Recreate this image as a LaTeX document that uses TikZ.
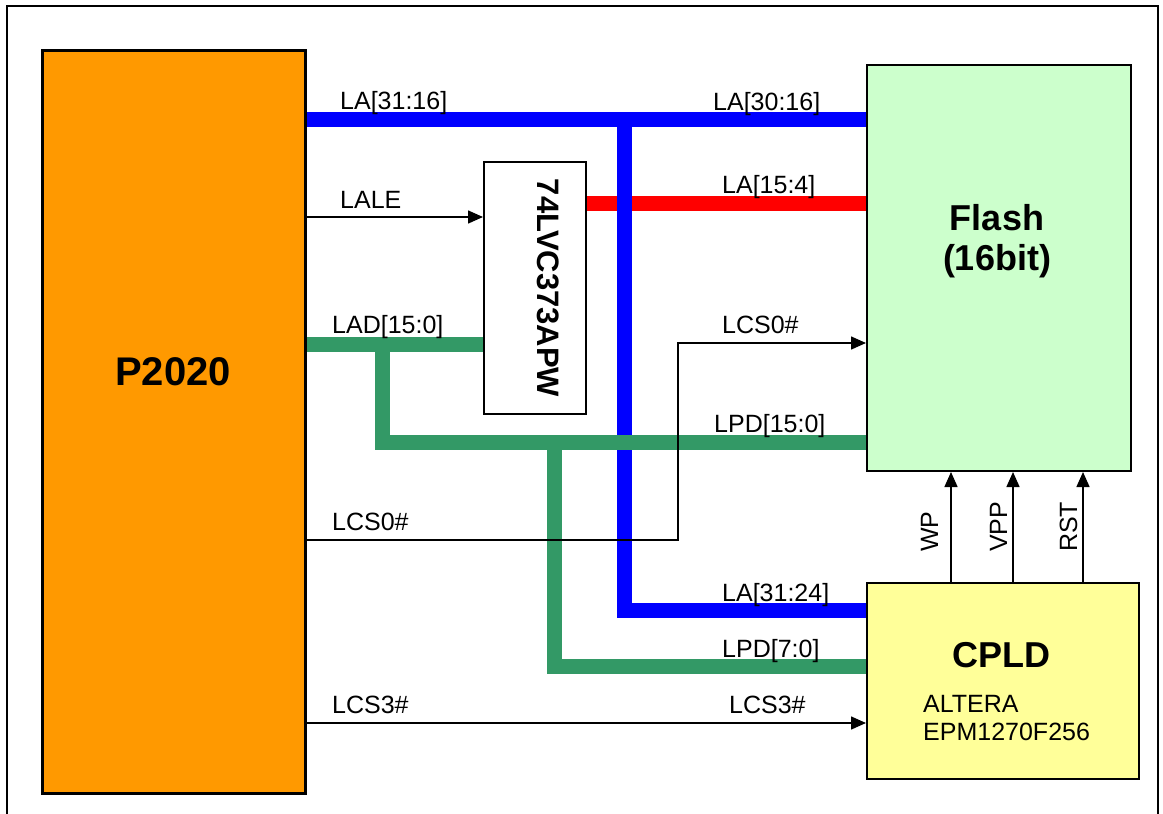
\documentclass[tikz,border=0pt]{standalone}
\usepackage{fontspec}
\setmainfont{Liberation Sans}
\usetikzlibrary{arrows.meta,backgrounds}
\definecolor{busblue}{RGB}{0,0,255}
\definecolor{busred}{RGB}{255,0,0}
\definecolor{busgreen}{RGB}{51,153,102}
\definecolor{cpuorange}{RGB}{255,153,0}
\definecolor{flashgreen}{RGB}{204,255,204}
\definecolor{cpldyellow}{RGB}{255,255,153}
\begin{document}
\begin{tikzpicture}[x=1pt,y=-1pt,
  box/.style={draw=black, inner sep=0pt, anchor=north west},
  bus/.style={line width=15pt, line cap=butt, line join=miter},
  sig/.style={line width=1.5pt, line join=miter, -{Triangle[length=15pt,width=13pt]}},
  wire/.style={line width=1.5pt, line join=miter},
  lbl/.style={font=\fontsize{25}{30}\selectfont, inner sep=0pt, anchor=base west},
  vlbl/.style={font=\fontsize{25}{30}\selectfont, inner sep=0pt, anchor=base west, rotate=90},
  big/.style={font=\fontsize{36}{40}\selectfont\bfseries, inner sep=0pt, anchor=base}]
\useasboundingbox (0,0) rectangle (1163,814);
\draw[line width=1.5pt] (7,830) -- (7,6) -- (1158,6) -- (1158,830);

% blocks
\node[box, fill=cpuorange, line width=3pt, minimum width=263pt, minimum height=743pt] (p2020) at (41,49) {};
\node[box, fill=flashgreen, line width=2pt, minimum width=264pt, minimum height=406pt] (flash) at (866,64) {};
\node[box, fill=cpldyellow, line width=2pt, minimum width=272pt, minimum height=196pt] (cpld) at (866,582) {};
\node[box, fill=white, line width=1.5pt, minimum width=102pt, minimum height=252pt] (latch) at (483,161) {};

% block texts
\node[big, font=\fontsize{40}{44}\selectfont\bfseries] (p2020txt) at (173,385) {P2020};
\node[big] (flashtxt) at (997,230) {Flash};
\node[big] (flashbit) at (997,270) {(16bit)};
\node[big] (cpldtxt) at (1001,667) {CPLD};
\node[lbl] (altera) at (923,712) {ALTERA};
\node[lbl] (epm) at (923,740) {EPM1270F256};
\node[font=\fontsize{31}{34}\selectfont\bfseries, inner sep=0pt, rotate=-90] (latchtxt) at (548,288) {74LVC373APW};

% levels and junctions
\coordinate (yLA) at (0,119.5);
\coordinate (yRed) at (0,203.5);
\coordinate (yLALE) at (0,217);
\coordinate (yLAD) at (0,344);
\coordinate (yLCSa) at (0,343);
\coordinate (yLPD) at (0,442);
\coordinate (yLA24) at (0,610.5);
\coordinate (yLPD7) at (0,666.5);
\coordinate (yLCS3) at (0,723);
\coordinate (jB) at (624,119.5);
\coordinate (jG1) at (382.5,344);
\coordinate (jG2) at (554.5,442);
\coordinate (cL) at (678,540);
\coordinate (xWP) at (951,0);
\coordinate (xVPP) at (1013,0);
\coordinate (xRST) at (1083,0);

\begin{scope}[on background layer]
  \draw[bus, busred] (latch.east |- yRed) -- (flash.west |- yRed);
  \draw[bus, busblue] (p2020.east |- yLA) -- (flash.west |- yLA);
  \draw[bus, busblue] (jB) -- (jB |- yLA24) -- (cpld.west |- yLA24);
  \draw[bus, busgreen] (p2020.east |- yLAD) -- (latch.west |- yLAD);
  \draw[bus, busgreen] (jG1) -- (jG1 |- yLPD) -- (flash.west |- yLPD);
  \draw[bus, busgreen] (jG2) -- (jG2 |- yLPD7) -- (cpld.west |- yLPD7);
  \draw[sig] (p2020.east |- yLALE) -- (latch.west |- yLALE);
  \draw[sig] (p2020.east |- cL) -- (cL) |- (flash.west |- yLCSa);
  \draw[sig] (p2020.east |- yLCS3) -- (cpld.west |- yLCS3);
  \draw[sig] (cpld.north -| xWP) -- (flash.south -| xWP);
  \draw[sig] (cpld.north -| xVPP) -- (flash.south -| xVPP);
  \draw[sig] (cpld.north -| xRST) -- (flash.south -| xRST);
\end{scope}

% labels
\node[lbl] (l1) at (340,109) {LA[31:16]};
\node[lbl] (l2) at (713,110) {LA[30:16]};
\node[lbl] (l3) at (340,208) {LALE};
\node[lbl] (l4) at (722,193) {LA[15:4]};
\node[lbl] (l5) at (332,333) {LAD[15:0]};
\node[lbl] (l6) at (722,333) {LCS0\#};
\node[lbl] (l7) at (714,432) {LPD[15:0]};
\node[lbl] (l8) at (332,530) {LCS0\#};
\node[lbl] (l9) at (722,601) {LA[31:24]};
\node[lbl] (l10) at (722,657) {LPD[7:0]};
\node[lbl] (l11) at (332,713) {LCS3\#};
\node[lbl] (l12) at (729,713) {LCS3\#};
\node[vlbl] (l13) at (938,552) {WP};
\node[vlbl] (l14) at (1007,552) {VPP};
\node[vlbl] (l15) at (1077,552) {RST};
\end{tikzpicture}
\end{document}
